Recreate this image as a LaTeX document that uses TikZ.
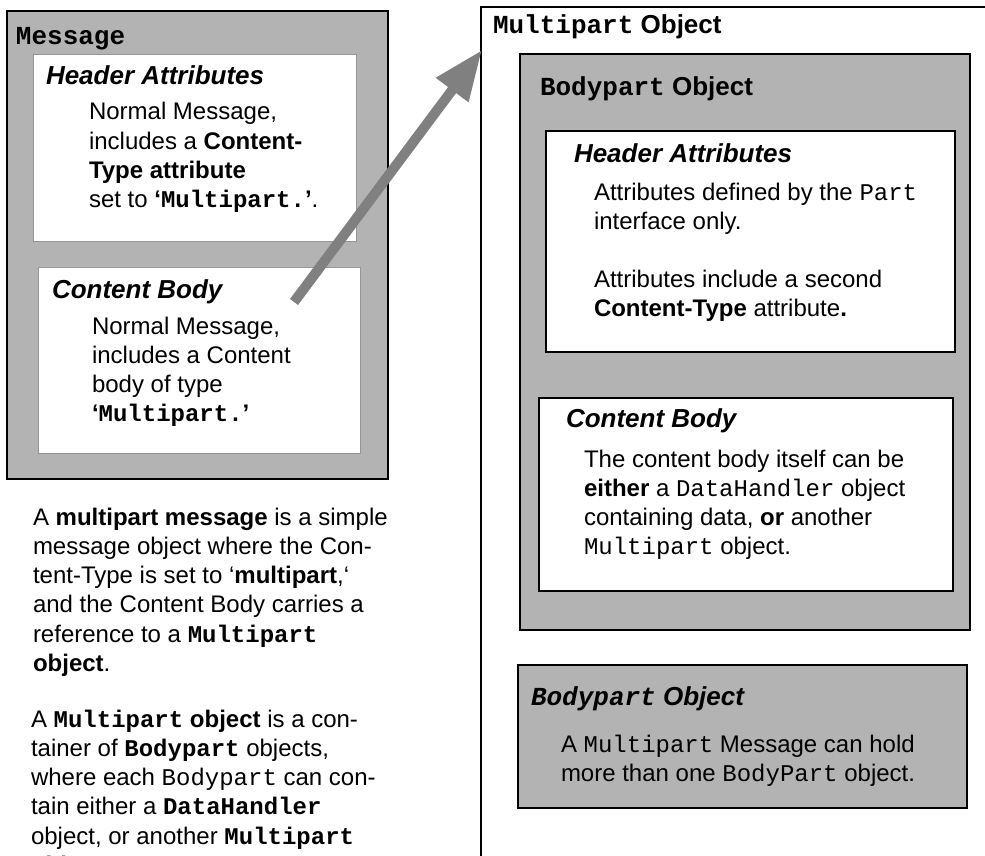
\documentclass[tikz,border=0pt]{standalone}
\usepackage{fontspec}
\setmainfont{Liberation Sans}
\setmonofont{Liberation Mono}
\usetikzlibrary{arrows.meta}
\definecolor{boxgray}{RGB}{179,179,179}
\definecolor{arrgray}{RGB}{128,128,128}
\definecolor{thingray}{RGB}{150,150,150}
\newcommand{\cbx}[1]{\texttt{\textbf{#1}}}
\newcommand{\textlines}[1]{\begin{tabular}[t]{@{}l@{}}#1\end{tabular}}
\begin{document}
\begin{tikzpicture}[x=1pt,y=-1pt,
  graybox/.style={draw=black, fill=boxgray, inner sep=0pt, outer sep=0pt, anchor=north west},
  whitebox/.style={draw=black, fill=white, line width=1.3pt, inner sep=0pt, outer sep=0pt, anchor=north west},
  lightbox/.style={draw=thingray, fill=white, line width=1pt, inner sep=0pt, outer sep=0pt, anchor=north west},
  bodytext/.style={anchor=base west, inner sep=0pt, outer sep=0pt, font=\fontsize{24}{29.3}\selectfont},
  headtext/.style={anchor=base west, inner sep=0pt, outer sep=0pt, font=\fontsize{26}{31}\selectfont\bfseries\itshape},
  titletext/.style={anchor=base west, inner sep=0pt, outer sep=0pt, font=\fontsize{26}{31}\selectfont\bfseries},
  bigarrow/.style={draw=arrgray, fill=arrgray, line width=10pt, -{Triangle[length=50pt,width=38pt]}}
]
\useasboundingbox (0,0) rectangle (985,856);
\clip (0,0) rectangle (985,856);
% ---------- left: Message ----------
\node[graybox, line width=2.5pt, minimum width=381pt, minimum height=468pt] (msg) at (7,11) {};
\node[titletext] (msgtitle) at (16,45) {\ttfamily Message};
\node[lightbox, minimum width=323pt, minimum height=186pt] (mhdr) at (33,55) {};
\node[headtext] (mhdrtitle) at (46,85) {Header Attributes};
\node[bodytext] (mhdrtext) at (89,120) {\textlines{Normal Message,\\
includes a \textbf{Content-}\\
\textbf{Type attribute}\\
set to \textbf{‘\texttt{Multipart.}’}.}};
\node[lightbox, minimum width=322pt, minimum height=186pt] (mbody) at (38,267) {};
\node[headtext] (mbodytitle) at (52,298) {Content Body};
\node[bodytext] (mbodytext) at (92,334) {\textlines{Normal Message,\\
includes a Content\\
body of type\\
\textbf{‘\texttt{Multipart.}’}}};
% ---------- left: description ----------
\node[bodytext] (desc1) at (33,525) {\textlines{A \textbf{multipart message} is a simple\\
message object where the Con-\\
tent-Type is set to ‘\textbf{multipart},‘\\
and the Content Body carries a\\
reference to a \cbx{Multipart}\\
\textbf{object}.}};
\node[bodytext] (desc2) at (31,727) {\textlines{A \cbx{Multipart} \textbf{object} is a con-\\
tainer of \cbx{Bodypart} objects,\\
where each \texttt{Bodypart} can con-\\
tain either a \cbx{DataHandler}\\
object, or another \cbx{Multipart}\\
\textbf{object}.}};
% ---------- right: Multipart Object ----------
\node[draw=black, line width=2.5pt, fill=white, inner sep=0pt, outer sep=0pt, anchor=north west,
      minimum width=700pt, minimum height=1000pt] (mp) at (481,7) {};
\node[titletext] (mptitle) at (493,34) {\texttt{Multipart} Object};
\node[graybox, line width=1.5pt, minimum width=450pt, minimum height=576pt] (bp) at (520,54) {};
\node[titletext] (bptitle) at (540,96) {\texttt{Bodypart} Object};
\node[whitebox, minimum width=409pt, minimum height=221pt] (bphdr) at (546,131) {};
\node[headtext] (bphdrtitle) at (574,162) {Header Attributes};
\node[bodytext] (bphdrtext1) at (594,200) {\textlines{Attributes defined by the \texttt{Part}\\
interface only.}};
\node[bodytext] (bphdrtext2) at (594,287) {\textlines{Attributes include a second\\
\textbf{Content-Type} attribute\textbf{.}}};
\node[whitebox, minimum width=414pt, minimum height=193pt] (bpbody) at (539,398) {};
\node[headtext] (bpbodytitle) at (566,427) {Content Body};
\node[bodytext] (bpbodytext) at (584,467) {\textlines{The content body itself can be\\
\textbf{either} a \texttt{DataHandler} object\\
containing data, \textbf{or} another\\
\texttt{Multipart} object.}};
\node[graybox, line width=1.5pt, minimum width=449pt, minimum height=143pt] (bp2) at (518,665) {};
\node[headtext] (bp2title) at (531,705) {\texttt{Bodypart} Object};
\node[bodytext] (bp2text) at (561,752) {\textlines{A \texttt{Multipart} Message can hold\\
more than one \texttt{BodyPart} object.}};
% ---------- arrow ----------
\coordinate (arrtail) at (294,302);
\coordinate (arrtip) at (482,50);
\draw[bigarrow] (arrtail) -- (arrtip);
\end{tikzpicture}
\end{document}
